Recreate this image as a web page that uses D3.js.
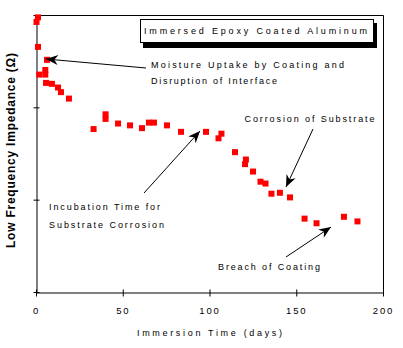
<!DOCTYPE html>
<html><head><meta charset="utf-8">
<script src="https://cdn.jsdelivr.net/npm/d3@7"></script>
<style>html,body{margin:0;padding:0;background:#fff;}svg{display:block;}text{font-family:"Liberation Sans",Arial,sans-serif;}</style>
</head><body>
<svg id="c" width="403" height="348"></svg>
<script>
const days = [0.86, 0, 0.86, 6.05, 5.07, 1.6, 5.07, 5.5, 8.9, 12.4, 14.1, 18.7, 32.9, 39.8, 39.8, 47.0, 53.9, 60.8, 64.8, 67.7, 75.2, 83.3, 97.7, 106.6, 104.9, 114.4, 120.7, 120.2, 124.8, 129.1, 132.0, 135.4, 140.3, 146.1, 154.5, 161.4, 177.2, 185.0];
const logImpedance = [7.98, 7.93, 7.66, 7.52, 7.41, 7.36, 7.36, 7.27, 7.26, 7.22, 7.17, 7.10, 6.77, 6.93, 6.88, 6.83, 6.81, 6.78, 6.84, 6.84, 6.81, 6.74, 6.74, 6.72, 6.67, 6.52, 6.44, 6.39, 6.31, 6.20, 6.18, 6.07, 6.08, 6.03, 5.80, 5.75, 5.82, 5.77];
const xTicks = [0, 50, 100, 150, 200];
const yTicks = [5, 6, 7, 8];
const title = "Immersed Epoxy Coated Aluminum";
const xLabel = "Immersion Time (days)";
const yLabel = "Low Frequency Impedance (\u03A9)";

const svg = d3.select("#c");
const x = d3.scaleLinear().domain([0, 200]).range([36.5, 383.5]);
const y = d3.scaleLinear().domain([5, 8]).range([292.5, 15.5]);

// frame
svg.append("path").attr("fill", "none").attr("stroke", "#000").attr("stroke-width", 1)
  .attr("d", `M${x(0)},${y(8)}H${x(200)}V${y(5)}`);

// x axis
const xa = svg.append("g").attr("transform", `translate(0,${y(5)})`)
  .call(d3.axisBottom(x).tickValues(xTicks).tickSize(0).tickFormat(""));
xa.select(".domain").attr("stroke", "#000");
xa.selectAll(".tick line").remove();
xTicks.forEach(t => {
  svg.append("line").attr("x1", x(t)).attr("x2", x(t)).attr("y1", y(5) - 3).attr("y2", y(5) + 4).attr("stroke", "#000");
  svg.append("text").attr("x", x(t)).attr("y", 313.5).attr("text-anchor", "middle")
    .attr("font-size", 9.5).attr("letter-spacing", "1.8px").text(t);
});

// y axis
const ya = svg.append("g").attr("transform", `translate(${x(0)},0)`)
  .call(d3.axisLeft(y).tickValues(yTicks).tickSize(0).tickFormat(""));
ya.select(".domain").attr("stroke", "#000");
yTicks.forEach(t => {
  svg.append("line").attr("x1", x(0) - 3).attr("x2", x(0) + 3).attr("y1", y(t)).attr("y2", y(t)).attr("stroke", "#000");
});

// axis labels
svg.append("text").attr("x", 137).attr("y", 335.5).attr("font-size", 9)
  .attr("textLength", 145).attr("lengthAdjust", "spacing").text(xLabel);
svg.append("text").attr("transform", "translate(15,248) rotate(-90)").attr("font-size", 12)
  .attr("font-weight", "bold").attr("textLength", 195).attr("lengthAdjust", "spacing").text(yLabel);

// legend box
svg.append("rect").attr("x", 143).attr("y", 23).attr("width", 234).attr("height", 25).attr("fill", "#000");
svg.append("rect").attr("x", 140.5).attr("y", 19.5).attr("width", 233).attr("height", 23)
  .attr("fill", "#fff").attr("stroke", "#000");
svg.append("text").attr("x", 144).attr("y", 33.5).attr("font-size", 9)
  .attr("textLength", 223).attr("lengthAdjust", "spacing").text(title);

// data
svg.append("g").selectAll("rect").data(days.map((d, i) => [d, logImpedance[i]])).join("rect")
  .attr("x", d => x(d[0]) - 3).attr("y", d => y(d[1]) - 3)
  .attr("width", 6).attr("height", 6).attr("fill", "#ff0000");

// annotations
function arrow(x1, y1, x2, y2) {
  svg.append("line").attr("x1", x1).attr("y1", y1).attr("x2", x2).attr("y2", y2)
    .attr("stroke", "#000").attr("stroke-width", 1);
  const a = Math.atan2(y2 - y1, x2 - x1);
  const L = 12, W = 5;
  const bx = x2 - L * Math.cos(a), by = y2 - L * Math.sin(a);
  const nx = x2 - 0.7 * L * Math.cos(a), ny = y2 - 0.7 * L * Math.sin(a);
  const px = -Math.sin(a) * W, py = Math.cos(a) * W;
  svg.append("path").attr("fill", "#000")
    .attr("d", `M${x2},${y2}L${bx + px},${by + py}L${nx},${ny}L${bx - px},${by - py}Z`);
}
function label(tx, ty, len, s) {
  svg.append("text").attr("x", tx).attr("y", ty).attr("font-size", 9)
    .attr("textLength", len).attr("lengthAdjust", "spacing").text(s);
}
label(151, 67.7, 193, "Moisture Uptake by Coating and");
label(151, 83.7, 126, "Disruption of Interface");
arrow(146, 68, 46, 59);
label(244.5, 122.3, 130, "Corrosion of Substrate");
arrow(313, 129, 286, 187);
label(49, 210, 111, "Incubation Time for");
label(49, 227.5, 115, "Substrate Corrosion");
arrow(144, 193, 200, 131);
label(218, 270, 102, "Breach of Coating");
arrow(286, 257, 331, 227);
</script>
</body></html>
